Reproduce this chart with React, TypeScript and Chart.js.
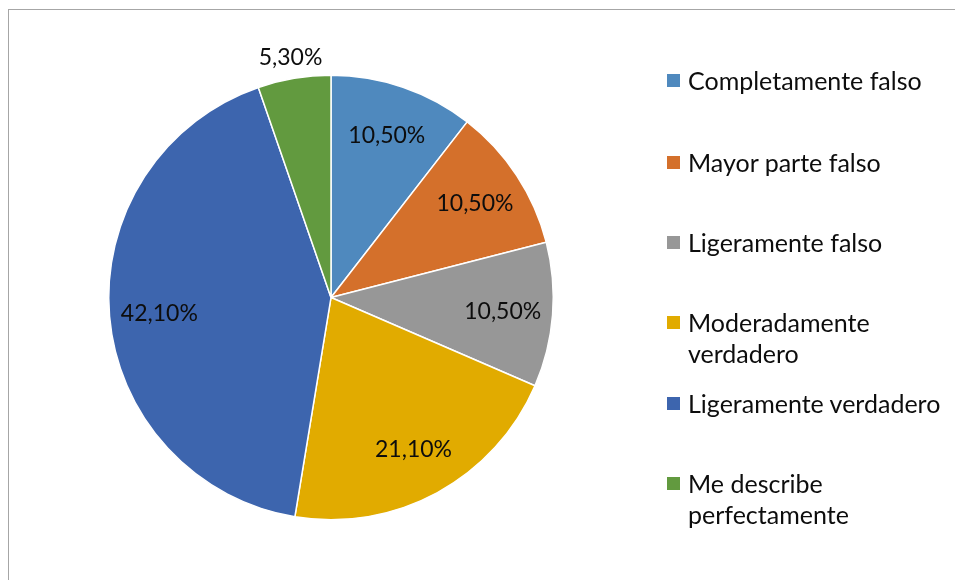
import React, { useEffect, useRef } from "react";
import { Chart, registerables } from "chart.js";

Chart.register(...registerables);

const categories = [
  "Completamente falso",
  "Mayor parte falso",
  "Ligeramente falso",
  "Moderadamente verdadero",
  "Ligeramente verdadero",
  "Me describe perfectamente",
];
const legendLines = [
  ["Completamente falso"],
  ["Mayor parte falso"],
  ["Ligeramente falso"],
  ["Moderadamente", "verdadero"],
  ["Ligeramente verdadero"],
  ["Me describe", "perfectamente"],
];
const values = [10.5, 10.5, 10.5, 21.1, 42.1, 5.3];
const valueLabels = ["10,50%", "10,50%", "10,50%", "21,10%", "42,10%", "5,30%"];
const colors = ["#4F89BE", "#D4702B", "#979797", "#E1AB00", "#3D65AE", "#629A3F"];

// layout constants (page coordinates)
const FONT = "Lato, 'Open Sans', sans-serif";
const LABEL_SIZE = 23;
const LEGEND_SIZE = 25;
const LEGEND_LINE = 31;
const legendCenters = [80, 162, 242, 322, 403, 483];
const LEGEND_SWATCH_X = 667;
const LEGEND_TEXT_X = 688;

const labelPlugin = {
  id: "sliceLabels",
  afterDatasetsDraw(chart: any) {
    const ctx = chart.ctx;
    const meta = chart.getDatasetMeta(0);
    ctx.save();
    ctx.font = `${LABEL_SIZE}px ${FONT}`;
    ctx.fillStyle = "#0D0D0D";
    ctx.textAlign = "center";
    ctx.textBaseline = "middle";
    meta.data.forEach((arc: any, i: number) => {
      const p = arc.getProps(["x", "y", "startAngle", "endAngle", "outerRadius"], true);
      const mid = (p.startAngle + p.endAngle) / 2;
      const r = values[i] < 8 ? p.outerRadius + 22 : p.outerRadius * 0.775;
      ctx.fillText(valueLabels[i], p.x + Math.cos(mid) * r, p.y + Math.sin(mid) * r + 1);
    });
    ctx.restore();
  },
};

export default function App() {
  const canvasRef = useRef<HTMLCanvasElement | null>(null);

  useEffect(() => {
    const canvas = canvasRef.current;
    if (!canvas) return;
    const chart = new Chart(canvas, {
      type: "pie",
      data: {
        labels: categories,
        datasets: [
          {
            data: values,
            backgroundColor: colors,
            borderColor: "#FFFFFF",
            borderWidth: 1.5,
          },
        ],
      },
      options: {
        responsive: false,
        animation: false,
        layout: { padding: { left: 108, right: 401, top: 74.5, bottom: 59.5 } },
        plugins: {
          legend: { display: false },
          tooltip: { enabled: false },
        },
      },
      plugins: [labelPlugin],
    });
    return () => chart.destroy();
  }, []);

  return (
    <div style={{ position: "fixed", left: 0, top: 0, width: 955, height: 580, background: "#fff", overflow: "hidden" }}>
      <div
        style={{
          position: "absolute",
          left: 8,
          top: 9,
          width: 947,
          height: 571,
          boxSizing: "border-box",
          borderLeft: "1px solid #A6A6A6",
          borderTop: "1px solid #A6A6A6",
        }}
      />
      <canvas ref={canvasRef} width={955} height={580} style={{ position: "absolute", left: 0, top: 0, display: "block" }} />
      {legendLines.map((lines, i) => (
        <React.Fragment key={i}>
          <div
            style={{
              position: "absolute",
              left: LEGEND_SWATCH_X,
              top: legendCenters[i] - 6.5,
              width: 13,
              height: 13,
              background: colors[i],
            }}
          />
          <div
            style={{
              position: "absolute",
              left: LEGEND_TEXT_X,
              top: legendCenters[i] - LEGEND_LINE / 2,
              fontFamily: FONT,
              fontSize: LEGEND_SIZE,
              lineHeight: `${LEGEND_LINE}px`,
              color: "#0D0D0D",
              whiteSpace: "nowrap",
            }}
          >
            {lines.map((l, j) => (
              <div key={j}>{l}</div>
            ))}
          </div>
        </React.Fragment>
      ))}
    </div>
  );
}
